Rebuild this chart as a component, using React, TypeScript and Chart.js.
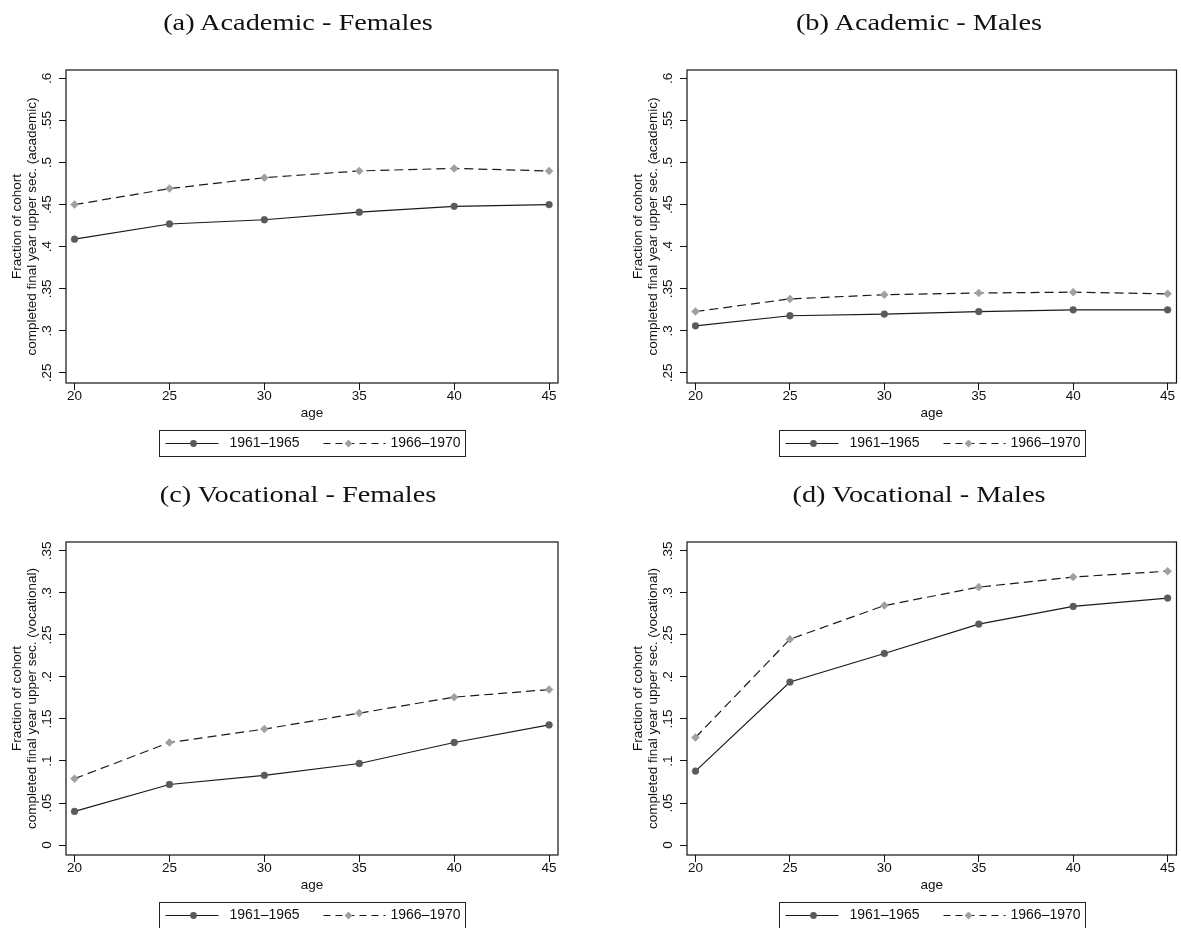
import React, { useEffect, useRef } from 'react';
import { Chart, registerables } from 'chart.js';

Chart.register(...registerables);

// ---------- data ----------
const AGES = [20, 25, 30, 35, 40, 45];
const X_TICK_LABELS = ['20', '25', '30', '35', '40', '45'];
const COHORTS = ['1961\u20131965', '1966\u20131970'];

const ACAD_FEMALES_1961 = [0.409, 0.427, 0.432, 0.441, 0.448, 0.45];
const ACAD_FEMALES_1966 = [0.45, 0.469, 0.482, 0.49, 0.493, 0.49];
const ACAD_MALES_1961 = [0.306, 0.318, 0.32, 0.323, 0.325, 0.325];
const ACAD_MALES_1966 = [0.323, 0.338, 0.343, 0.345, 0.346, 0.344];
const VOC_FEMALES_1961 = [0.04, 0.072, 0.083, 0.097, 0.122, 0.143];
const VOC_FEMALES_1966 = [0.079, 0.122, 0.138, 0.157, 0.176, 0.185];
const VOC_MALES_1961 = [0.088, 0.194, 0.228, 0.263, 0.284, 0.294];
const VOC_MALES_1966 = [0.128, 0.245, 0.285, 0.307, 0.319, 0.326];

const Y_TICKS_ACAD = [0.25, 0.3, 0.35, 0.4, 0.45, 0.5, 0.55, 0.6];
const Y_LABELS_ACAD = ['.25', '.3', '.35', '.4', '.45', '.5', '.55', '.6'];
const Y_TICKS_VOC = [0, 0.05, 0.1, 0.15, 0.2, 0.25, 0.3, 0.35];
const Y_LABELS_VOC = ['0', '.05', '.1', '.15', '.2', '.25', '.3', '.35'];

const Y_TITLE_ACAD = ['Fraction of cohort', 'completed final year upper sec. (academic)'];
const Y_TITLE_VOC = ['Fraction of cohort', 'completed final year upper sec. (vocational)'];
const X_TITLE = 'age';

const TITLES = [
  '(a) Academic - Females',
  '(b) Academic - Males',
  '(c) Vocational - Females',
  '(d) Vocational - Males',
];

// ---------- styles ----------
const SANS = '"Liberation Sans", Arial, Helvetica, sans-serif';
const SERIF = '"Liberation Serif", "Times New Roman", serif';
const LINE_COLOR = '#1a1a1a';
const MARK1 = '#5a5a5a';
const MARK2 = '#a0a0a0';

const framePlugin = {
  id: 'stataFrame',
  beforeDatasetsDraw(chart: any) {
    const { ctx, chartArea } = chart;
    const { left, top, right, bottom } = chartArea;
    ctx.save();
    ctx.strokeStyle = '#111';
    ctx.lineWidth = 1.2;
    ctx.strokeRect(left, top, right - left, bottom - top);
    ctx.restore();
  },
};

const legendPlugin = {
  id: 'stataLegend',
  afterDraw(chart: any) {
    const { ctx, chartArea } = chart;
    const cx = (chartArea.left + chartArea.right) / 2;
    const bx = Math.round(cx - 153) + 0.5;
    const by = 430.5;
    const bw = 306;
    const bh = 26;
    ctx.save();
    ctx.strokeStyle = '#222';
    ctx.lineWidth = 1;
    ctx.strokeRect(bx, by, bw, bh);
    const my = by + bh / 2;
    const items = [
      { x0: 6, x1: 59, mx: 34, tx: 70 },
      { x0: 164, x1: 226, mx: 189, tx: 231 },
    ];
    chart.data.datasets.forEach((ds: any, i: number) => {
      const it = items[i];
      ctx.strokeStyle = ds.borderColor;
      ctx.lineWidth = ds.borderWidth;
      ctx.setLineDash(ds.legendDash || ds.borderDash || []);
      ctx.beginPath();
      ctx.moveTo(bx + it.x0, my);
      ctx.lineTo(bx + it.x1, my);
      ctx.stroke();
      ctx.setLineDash([]);
      ctx.fillStyle = ds.pointBackgroundColor;
      ctx.beginPath();
      const r = ds.pointRadius;
      const px = bx + it.mx;
      if (ds.pointStyle === 'rectRot') {
        ctx.moveTo(px, my - r);
        ctx.lineTo(px + r, my);
        ctx.lineTo(px, my + r);
        ctx.lineTo(px - r, my);
        ctx.closePath();
      } else {
        ctx.arc(px, my, r, 0, Math.PI * 2);
      }
      ctx.fill();
      ctx.fillStyle = '#111';
      ctx.font = `14px ${SANS}`;
      ctx.textAlign = 'left';
      ctx.textBaseline = 'middle';
      ctx.fillText(ds.label, bx + it.tx, my);
    });
    ctx.restore();
  },
};

type PanelProps = {
  title: string;
  s1: number[];
  s2: number[];
  yTicks: number[];
  yLabels: string[];
  yTitle: string[];
  yMin: number;
  yMax: number;
  left: number;
  top: number;
  width: number;
};

function Panel(p: PanelProps) {
  const ref = useRef<HTMLCanvasElement | null>(null);
  useEffect(() => {
    if (!ref.current) return;
    const tickFont = { family: SANS, size: 13.5, lineHeight: 1 };
    const chart = new Chart(ref.current, {
      type: 'line',
      data: {
        datasets: [
          {
            label: COHORTS[0],
            data: AGES.map((a, i) => ({ x: a, y: p.s1[i] })),
            borderColor: LINE_COLOR,
            borderWidth: 1.2,
            pointStyle: 'circle',
            pointRadius: 3.4,
            pointBackgroundColor: MARK1,
            pointBorderColor: MARK1,
            pointBorderWidth: 0.5,
            tension: 0,
          },
          {
            label: COHORTS[1],
            data: AGES.map((a, i) => ({ x: a, y: p.s2[i] })),
            borderColor: LINE_COLOR,
            borderWidth: 1.2,
            borderDash: [9, 5],
            legendDash: [7, 5],
            pointStyle: 'rectRot',
            pointRadius: 4,
            pointBackgroundColor: MARK2,
            pointBorderColor: MARK2,
            pointBorderWidth: 0.5,
            tension: 0,
          },
        ],
      } as any,
      options: {
        animation: false,
        responsive: false,
        maintainAspectRatio: false,
        devicePixelRatio: 1,
        events: [],
        layout: { padding: { left: 0, top: 70, right: p.width - 558, bottom: 0 } },
        plugins: {
          legend: { display: false },
          tooltip: { enabled: false },
          title: { display: false },
        },
        scales: {
          x: {
            type: 'linear',
            min: 19.55,
            max: 45.47,
            afterBuildTicks: (s: any) => {
              s.ticks = AGES.map((v) => ({ value: v }));
            },
            afterFit: (s: any) => {
              s.height = 89;
            },
            grid: {
              display: true,
              drawOnChartArea: false,
              drawTicks: true,
              tickLength: 7,
              color: '#111',
              lineWidth: 1,
            },
            border: { display: false },
            ticks: {
              color: '#111',
              font: tickFont,
              padding: 0,
              maxRotation: 0,
              autoSkip: false,
              callback: (_v: any, i: number) => X_TICK_LABELS[i],
            },
            title: {
              display: true,
              text: X_TITLE,
              color: '#111',
              font: { family: SANS, size: 13.5, lineHeight: 1.2 },
              padding: { top: 0, bottom: 51 },
            },
          },
          y: {
            type: 'linear',
            min: p.yMin,
            max: p.yMax,
            afterBuildTicks: (s: any) => {
              s.ticks = p.yTicks.map((v) => ({ value: v }));
            },
            afterFit: (s: any) => {
              s.width = 66;
            },
            grid: {
              display: true,
              drawOnChartArea: false,
              drawTicks: true,
              tickLength: 7,
              color: '#111',
              lineWidth: 1,
            },
            border: { display: false },
            ticks: {
              color: '#111',
              font: tickFont,
              padding: 2.5,
              minRotation: 90,
              maxRotation: 90,
              crossAlign: 'center',
              autoSkip: false,
              callback: (_v: any, i: number) => p.yLabels[i],
            },
            title: {
              display: true,
              text: p.yTitle,
              color: '#111',
              font: { family: SANS, size: 13.5, lineHeight: '15px' },
              padding: { top: 9.5, bottom: 0 },
            },
          },
        },
      } as any,
      plugins: [framePlugin, legendPlugin],
    });
    return () => chart.destroy();
  }, []);
  return (
    <>
      <canvas
        ref={ref}
        width={p.width}
        height={472}
        style={{ position: 'absolute', left: p.left, top: p.top, width: p.width, height: 472 }}
      />
      <div
        style={{
          position: 'absolute',
          left: p.left + 298,
          top: p.top + 10,
          transform: 'translateX(-50%) scaleX(1.18)',
          fontFamily: SERIF,
          fontSize: 24,
          lineHeight: '24px',
          whiteSpace: 'nowrap',
          color: '#111',
        }}
      >
        {p.title}
      </div>
    </>
  );
}

export default function App() {
  return (
    <div
      style={{
        position: 'absolute',
        left: 0,
        top: 0,
        width: 1181,
        height: 928,
        overflow: 'hidden',
        background: '#fff',
      }}
    >
      <Panel title={TITLES[0]} s1={ACAD_FEMALES_1961} s2={ACAD_FEMALES_1966} yTicks={Y_TICKS_ACAD} yLabels={Y_LABELS_ACAD} yTitle={Y_TITLE_ACAD} yMin={0.2381} yMax={0.6099} left={0} top={0} width={590} />
      <Panel title={TITLES[1]} s1={ACAD_MALES_1961} s2={ACAD_MALES_1966} yTicks={Y_TICKS_ACAD} yLabels={Y_LABELS_ACAD} yTitle={Y_TITLE_ACAD} yMin={0.2381} yMax={0.6099} left={621} top={0} width={560} />
      <Panel title={TITLES[2]} s1={VOC_FEMALES_1961} s2={VOC_FEMALES_1966} yTicks={Y_TICKS_VOC} yLabels={Y_LABELS_VOC} yTitle={Y_TITLE_VOC} yMin={-0.0119} yMax={0.3607} left={0} top={472} width={590} />
      <Panel title={TITLES[3]} s1={VOC_MALES_1961} s2={VOC_MALES_1966} yTicks={Y_TICKS_VOC} yLabels={Y_LABELS_VOC} yTitle={Y_TITLE_VOC} yMin={-0.0119} yMax={0.3607} left={621} top={472} width={560} />
    </div>
  );
}
